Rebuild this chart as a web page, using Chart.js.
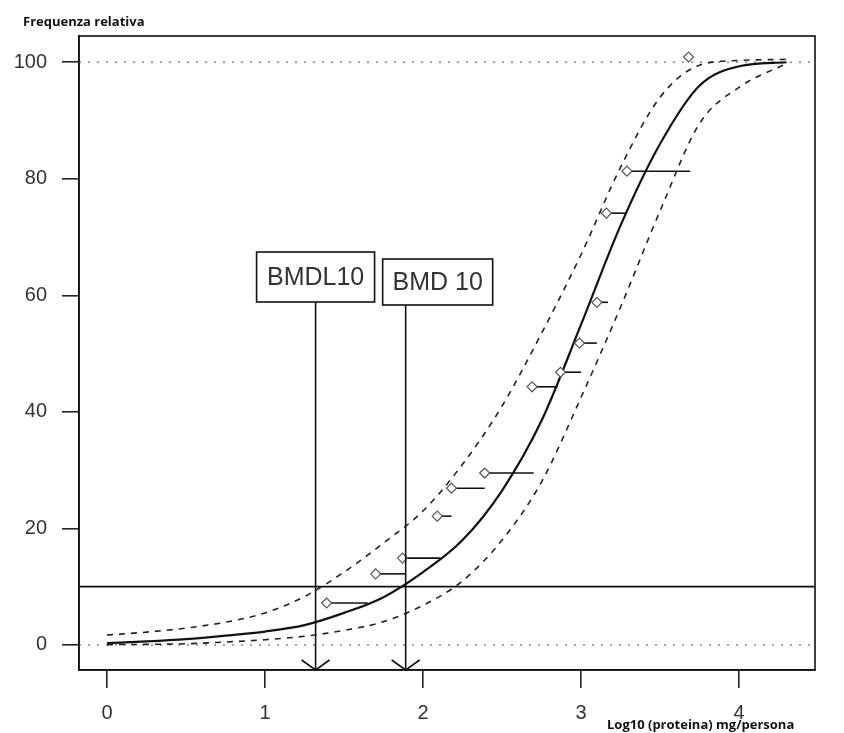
<!DOCTYPE html>
<html>
<head>
<meta charset="utf-8">
<script src="https://cdn.jsdelivr.net/npm/chart.js@4.4.1/dist/chart.umd.min.js"></script>
<style>
  body { margin: 0; background: #fff; }
  #wrap { width: 844px; height: 733px; }
</style>
</head>
<body>
<div id="wrap"><canvas id="bmdChart" width="844" height="733"></canvas></div>
<script>
// Curve grid (log10 dose) and fitted / confidence curves (% response)
const doseGrid   = [0, 0.25, 0.5, 0.75, 1.0, 1.25, 1.5, 1.75, 2.0, 2.25, 2.5, 2.75, 3.0, 3.25, 3.5, 3.75, 4.0, 4.3];
const fitCurve   = [0.3, 0.6, 1.0, 1.6, 2.3, 3.4, 5.5, 8.2, 12.5, 18, 26.5, 38.5, 55, 72, 86, 96, 99.3, 100];
const upperCurve = [1.7, 2.2, 2.9, 3.9, 5.5, 8.3, 12.5, 17.5, 23, 31, 41, 53.5, 67, 82, 94, 99.5, 100.3, 100.5];
const lowerCurve = [0.05, 0.1, 0.2, 0.5, 0.9, 1.5, 2.5, 4.0, 6.8, 11, 18, 28, 42.5, 58, 74.5, 89.5, 95.7, 99.8];

// Observed points and the end of their horizontal bars
const obsDose   = [1.39, 1.70, 1.87, 2.09, 2.18, 2.39, 2.69, 2.87, 2.99, 3.10, 3.16, 3.29, 3.68];
const obsFreq   = [7.2, 12.2, 14.9, 22.1, 26.9, 29.5, 44.3, 46.8, 51.8, 58.8, 74.1, 81.3, 100.9];
const obsBarEnd = [1.65, 1.89, 2.11, 2.18, 2.39, 2.70, 2.85, 3.00, 3.10, 3.17, 3.29, 3.69, 3.68];

// Benchmark values
const bmrLevel  = 10;
const bmdLabels = ['BMDL10', 'BMD 10'];
const bmdValues = [1.32, 1.89];
const refLevels = [0, 100];

const xTicks = [0, 1, 2, 3, 4];
const yTicks = [0, 20, 40, 60, 80, 100];
const xMin = -0.177, xMax = 4.48;
const yMin = -4.3, yMax = 104.5;

const pts = (xs, ys) => xs.map((x, i) => ({ x: x, y: ys[i] }));

const datasets = [];

datasets.push({
    label: 'osservati',
    data: pts(obsDose, obsFreq),
    showLine: false,
    pointStyle: 'rectRot',
    pointRadius: 5,
    pointBorderColor: '#555',
    pointBackgroundColor: '#fff',
    pointBorderWidth: 1.2
});

obsDose.forEach((d, i) => {
    datasets.push({
        data: [{ x: d, y: obsFreq[i] }, { x: obsBarEnd[i], y: obsFreq[i] }],
        showLine: true,
        borderColor: '#111',
        borderWidth: 1.6,
        pointRadius: 0
    });
});

datasets.push({
    label: 'fit',
    data: pts(doseGrid, fitCurve),
    showLine: true,
    borderColor: '#111',
    borderWidth: 2.2,
    pointRadius: 0,
    cubicInterpolationMode: 'monotone'
});
datasets.push({
    label: 'upper',
    data: pts(doseGrid, upperCurve),
    showLine: true,
    borderColor: '#222',
    borderWidth: 1.6,
    borderDash: [6, 6],
    pointRadius: 0,
    cubicInterpolationMode: 'monotone'
});
datasets.push({
    label: 'lower',
    data: pts(doseGrid, lowerCurve),
    showLine: true,
    borderColor: '#222',
    borderWidth: 1.6,
    borderDash: [6, 6],
    pointRadius: 0,
    cubicInterpolationMode: 'monotone'
});

datasets.push({
    label: 'bmr',
    data: [{ x: xMin, y: bmrLevel }, { x: xMax, y: bmrLevel }],
    showLine: true,
    borderColor: '#111',
    borderWidth: 1.6,
    pointRadius: 0
});

refLevels.forEach(level => {
    datasets.push({
        data: [{ x: xMin, y: level }, { x: xMax, y: level }],
        showLine: true,
        borderColor: '#888',
        borderWidth: 1.4,
        borderDash: [2, 7],
        pointRadius: 0
    });
});

// Frame, BMD markers with boxes and the axis captions
const decorPlugin = {
    id: 'decor',
    afterDatasetsDraw(chart) {
        const ctx = chart.ctx;
        const area = chart.chartArea;
        const xs = chart.scales.x;
        ctx.save();

        ctx.strokeStyle = '#111';
        ctx.lineWidth = 1.6;
        ctx.strokeRect(area.left, area.top, area.right - area.left, area.bottom - area.top);

        const boxes = [
            { left: -59, width: 118, top: 252, height: 50 },
            { left: -23, width: 110, top: 259, height: 46 }
        ];
        ctx.font = '25px "Liberation Sans", Arial, sans-serif';
        ctx.textAlign = 'center';
        ctx.textBaseline = 'middle';
        bmdValues.forEach((v, i) => {
            const px = xs.getPixelForValue(v);
            const b = boxes[i];
            ctx.strokeStyle = '#111';
            ctx.lineWidth = 1.6;
            ctx.beginPath();
            ctx.moveTo(px, b.top + b.height);
            ctx.lineTo(px, area.bottom);
            ctx.stroke();
            // arrow head
            ctx.beginPath();
            ctx.moveTo(px - 14, area.bottom - 10);
            ctx.lineTo(px, area.bottom);
            ctx.lineTo(px + 14, area.bottom - 10);
            ctx.stroke();
            // label box
            ctx.fillStyle = '#fff';
            ctx.fillRect(px + b.left, b.top, b.width, b.height);
            ctx.strokeRect(px + b.left, b.top, b.width, b.height);
            ctx.fillStyle = '#333';
            ctx.fillText(bmdLabels[i], px + b.left + b.width / 2, b.top + b.height / 2 + 1);
        });

        ctx.fillStyle = '#111';
        ctx.font = 'bold 13px "Open Sans", sans-serif';
        ctx.textAlign = 'left';
        ctx.fillText('Frequenza relativa', 23, 22);
        ctx.fillText('Log10 (proteina) mg/persona', 607, 725);
        ctx.restore();
    }
};

new Chart(document.getElementById('bmdChart'), {
    type: 'scatter',
    data: { datasets: datasets },
    options: {
        responsive: false,
        animation: false,
        devicePixelRatio: 1,
        layout: { padding: { top: 36, right: 29, left: 0, bottom: 0 } },
        plugins: { legend: { display: false }, tooltip: { enabled: false } },
        scales: {
            x: {
                type: 'linear',
                min: xMin,
                max: xMax,
                afterBuildTicks: s => { s.ticks = xTicks.map(v => ({ value: v })); },
                afterFit: s => { s.height = 63; },
                grid: { drawOnChartArea: false, tickLength: 18, color: '#222', lineWidth: 1.6 },
                border: { display: true, color: '#111', width: 1.6 },
                ticks: {
                    padding: 13,
                    color: '#333',
                    font: { family: '"Liberation Sans", Arial, sans-serif', size: 20 },
                    callback: v => String(v)
                }
            },
            y: {
                type: 'linear',
                min: yMin,
                max: yMax,
                afterBuildTicks: s => { s.ticks = yTicks.map(v => ({ value: v })); },
                afterFit: s => { s.width = 79; },
                grid: { drawOnChartArea: false, tickLength: 17, color: '#222', lineWidth: 1.6 },
                border: { display: true, color: '#111', width: 1.6 },
                ticks: {
                    padding: 15,
                    color: '#333',
                    font: { family: '"Liberation Sans", Arial, sans-serif', size: 20 },
                    callback: v => String(v)
                }
            }
        }
    },
    plugins: [decorPlugin]
});
</script>
</body>
</html>
